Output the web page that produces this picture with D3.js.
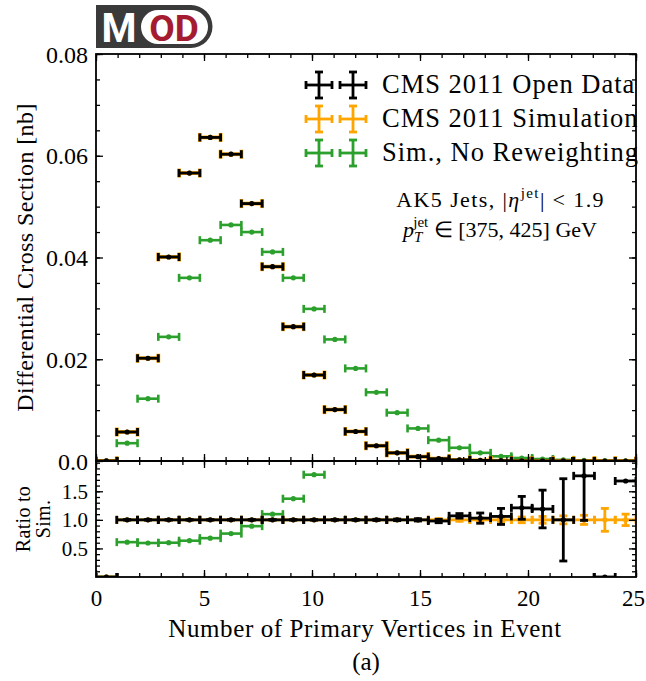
<!DOCTYPE html>
<html>
<head>
<meta charset="utf-8">
<script src="https://cdn.jsdelivr.net/npm/d3@7"></script>
<style>
  body { margin: 0; background: #fff; }
  svg { display: block; }
  .serif { font-family: "Liberation Serif", "Times New Roman", serif; fill: #000; }
  .badge { font-family: Roboto, "DejaVu Sans", sans-serif; font-weight: 700; }
</style>
</head>
<body>
<svg id="chart" width="646" height="681"></svg>
<script>
// ---- data: 26 equal bins spanning 0..25 primary vertices ----
const binEdges = d3.range(27).map(i => i * 25 / 26);

// differential cross section [nb]
const dataXsec = [0.00002, 0.0057, 0.0202, 0.0401, 0.0566, 0.0636, 0.0603, 0.0506, 0.0382, 0.0264,
  0.0169, 0.0101, 0.0058, 0.0030, 0.0016, 0.00085, 0.00045, 0.00022, 0.00012, 0.00006,
  0.00003, 0.000015, 0.000008, 0.000004, 0, 0.000002];
const simXsec = [0.00002, 0.0057, 0.0202, 0.0401, 0.0566, 0.0636, 0.0603, 0.0506, 0.0382, 0.0264,
  0.0169, 0.0101, 0.0058, 0.0030, 0.0016, 0.00086, 0.00046, 0.00021, 0.000117, 0.000057,
  0.000025, 0.000013, 0.000008, 0.0000023, 0.000003, 0.0000012];
const noRwXsec = [0.00003, 0.0035, 0.01225, 0.0244, 0.0360, 0.0434, 0.0464, 0.0450, 0.0411, 0.0360,
  0.0299, 0.0239, 0.0182, 0.0135, 0.0095, 0.0064, 0.0041, 0.0026, 0.0016, 0.00092,
  0.00059, 0.00039, 0.00022, 0.00012, 0.00006, 0.00003];

// ratios to the reweighted simulation, with their uncertainties
const ratioData = [0, 1.0, 1.0, 1.0, 1.0, 1.0, 1.0, 1.0, 1.0, 1.0,
  1.0, 1.0, 1.0, 1.0, 1.0, 1.0, 0.98, 1.07, 1.03, 1.06,
  1.21, 1.19, 1.0, 1.77, 0, 1.68];
const ratioDataErr = [0, 0.004, 0.003, 0.002, 0.002, 0.002, 0.002, 0.002, 0.003, 0.003,
  0.004, 0.005, 0.007, 0.01, 0.014, 0.02, 0.03, 0.04, 0.09, 0.14,
  0.2, 0.33, 0.72, 0.78, 0, 0];
const ratioSim = [0, 1, 1, 1, 1, 1, 1, 1, 1, 1, 1, 1, 1, 1, 1, 1, 1, 1, 1, 1, 1, 1, 1, 1, 1, 1];
const ratioSimErr = [0, 0.003, 0.002, 0.002, 0.002, 0.002, 0.002, 0.002, 0.002, 0.003,
  0.003, 0.004, 0.005, 0.007, 0.01, 0.014, 0.02, 0.025, 0.03, 0.04,
  0.05, 0.06, 0.07, 0.08, 0.2, 0.1];
const ratioNoRw = [0, 0.61, 0.595, 0.60, 0.635, 0.68, 0.76, 0.89, 1.10, 1.37,
  1.79, 2.37, 3.1, 4.5, 5.9, 7.5, 9.0, 12.0, 13.5, 15.0,
  19.0, 25.0, 27.0, 50.0, 60.0, 30.0];

// axis ticks and labels
const xMajorTicks = [0, 5, 10, 15, 20, 25];
const xMinorTicks = d3.range(0, 26, 1);
const yMainMajorTicks = [0, 0.02, 0.04, 0.06, 0.08];
const yMainTickLabels = ["0.0", "0.02", "0.04", "0.06", "0.08"];
const yMainMinorTicks = d3.range(0, 0.0801, 0.005);
const yRatioMajorTicks = [0.5, 1.0, 1.5];
const yRatioTickLabels = ["0.5", "1.0", "1.5"];
const yRatioMinorTicks = d3.range(0.1, 2.01, 0.1);

const legendLabels = ["CMS 2011 Open Data", "CMS 2011 Simulation", "Sim., No Reweighting"];
const colors = { data: "#000000", sim: "#ffa500", noRw: "#2ca02c" };

// ---- layout ----
const L = 96, R = 636, T = 54, M = 461, B = 577;
const svg = d3.select("#chart");

const x = d3.scaleLinear().domain([0, 25]).range([L, R]);
const yMain = d3.scaleLinear().domain([0, 0.08]).range([M, T]);
const yRatio = d3.scaleLinear().domain([0, 2.03]).range([B, M]);

const defs = svg.append("defs");
defs.append("clipPath").attr("id", "clipMain").append("rect")
  .attr("x", L).attr("y", T).attr("width", R - L).attr("height", M - T);
defs.append("clipPath").attr("id", "clipRatio").append("rect")
  .attr("x", L).attr("y", M).attr("width", R - L).attr("height", B - M);

// ---- error-bar series: x extent = bin, caps on every end, dot at centre ----
function errorSeries(layer, yScale, values, errors, st) {
  const rows = values.map((v, i) => ({
    lo: binEdges[i], hi: binEdges[i + 1], mid: (binEdges[i] + binEdges[i + 1]) / 2,
    v, e: errors ? errors[i] : 0
  })).filter(r => r.v != null);
  const g = layer.append("g").attr("stroke", st.color).attr("fill", st.color)
    .attr("stroke-width", st.lw);
  const b = g.selectAll("g").data(rows).join("g");
  b.append("line")
    .attr("x1", r => x(r.lo)).attr("x2", r => x(r.hi))
    .attr("y1", r => yScale(r.v)).attr("y2", r => yScale(r.v));
  [r => r.lo, r => r.hi].forEach(f => {
    b.append("line")
      .attr("x1", r => x(f(r))).attr("x2", r => x(f(r)))
      .attr("y1", r => yScale(r.v) - st.cap).attr("y2", r => yScale(r.v) + st.cap);
  });
  const be = b.filter(r => r.e > 0);
  be.append("line")
    .attr("x1", r => x(r.mid)).attr("x2", r => x(r.mid))
    .attr("y1", r => yScale(r.v - r.e)).attr("y2", r => yScale(r.v + r.e));
  [-1, 1].forEach(s => {
    be.append("line")
      .attr("x1", r => x(r.mid) - st.cap).attr("x2", r => x(r.mid) + st.cap)
      .attr("y1", r => yScale(r.v + s * r.e)).attr("y2", r => yScale(r.v + s * r.e));
  });
  b.append("circle").attr("cx", r => x(r.mid)).attr("cy", r => yScale(r.v))
    .attr("r", st.r).attr("stroke", "none");
}

const mainLayer = svg.append("g").attr("clip-path", "url(#clipMain)");
errorSeries(mainLayer, yMain, noRwXsec, null, { color: colors.noRw, lw: 2.6, cap: 4, r: 2.6 });
errorSeries(mainLayer, yMain, simXsec, null, { color: colors.sim, lw: 3.8, cap: 4.5, r: 2.6 });
errorSeries(mainLayer, yMain, dataXsec, null, { color: colors.data, lw: 2.8, cap: 4, r: 2.6 });

const ratioLayer = svg.append("g").attr("clip-path", "url(#clipRatio)");
errorSeries(ratioLayer, yRatio, ratioNoRw, null, { color: colors.noRw, lw: 2.6, cap: 4, r: 2.6 });
errorSeries(ratioLayer, yRatio, ratioSim, ratioSimErr, { color: colors.sim, lw: 2.8, cap: 4, r: 2.6 });
errorSeries(ratioLayer, yRatio, ratioData, ratioDataErr, { color: colors.data, lw: 2.8, cap: 4, r: 2.6 });

// ---- axes: inward ticks on all four sides of both panels ----
function tickAxis(axisFn, scale, values, size, pos, labels) {
  const ax = axisFn(scale).tickValues(values).tickSizeInner(-size).tickSizeOuter(0)
    .tickPadding(8).tickFormat(labels ? (d, i) => labels[i] : "");
  const g = svg.append("g").attr("transform", pos).call(ax);
  g.select(".domain").remove();
  g.selectAll(".tick line").attr("stroke", "#000").attr("stroke-width", 1.3);
  g.selectAll(".tick text").attr("class", "serif").attr("fill", "#000");
  return g;
}
const MAJ = 7, MIN = 4;
// main panel
tickAxis(d3.axisTop, x, xMinorTicks, MIN, `translate(0,${T})`);
tickAxis(d3.axisTop, x, xMajorTicks, MAJ, `translate(0,${T})`);
tickAxis(d3.axisBottom, x, xMinorTicks, MIN, `translate(0,${M})`);
tickAxis(d3.axisBottom, x, xMajorTicks, MAJ, `translate(0,${M})`);
tickAxis(d3.axisLeft, yMain, yMainMinorTicks, MIN, `translate(${L},0)`);
tickAxis(d3.axisLeft, yMain, yMainMajorTicks, MAJ, `translate(${L},0)`, yMainTickLabels)
  .selectAll(".tick text").attr("font-size", 24).attr("dy", "0.34em");
tickAxis(d3.axisRight, yMain, yMainMinorTicks, MIN, `translate(${R},0)`);
tickAxis(d3.axisRight, yMain, yMainMajorTicks, MAJ, `translate(${R},0)`);
// ratio panel
tickAxis(d3.axisTop, x, xMinorTicks, -MIN, `translate(0,${M})`).selectAll(".tick line")
  .attr("y2", MIN);
tickAxis(d3.axisTop, x, xMajorTicks, -MAJ, `translate(0,${M})`).selectAll(".tick line")
  .attr("y2", MAJ);
tickAxis(d3.axisBottom, x, xMinorTicks, MIN, `translate(0,${B})`);
tickAxis(d3.axisBottom, x, xMajorTicks, MAJ, `translate(0,${B})`,
  xMajorTicks.map(String)).selectAll(".tick text").attr("font-size", 23).attr("dy", "0.9em")
  .attr("dx", d => d === 25 ? -3 : 0);
tickAxis(d3.axisLeft, yRatio, yRatioMinorTicks, MIN, `translate(${L},0)`);
tickAxis(d3.axisLeft, yRatio, yRatioMajorTicks, MAJ, `translate(${L},0)`, yRatioTickLabels)
  .selectAll(".tick text").attr("font-size", 21).attr("dy", "0.34em");
tickAxis(d3.axisRight, yRatio, yRatioMinorTicks, MIN, `translate(${R},0)`);
tickAxis(d3.axisRight, yRatio, yRatioMajorTicks, MAJ, `translate(${R},0)`);

// frames
[[T, M], [M, B]].forEach(([a, b]) => {
  svg.append("rect").attr("x", L).attr("y", a).attr("width", R - L).attr("height", b - a)
    .attr("fill", "none").attr("stroke", "#000").attr("stroke-width", 1.8);
});

// ---- axis titles ----
svg.append("text").attr("class", "serif")
  .attr("transform", `translate(33,${(T + M) / 2}) rotate(-90)`)
  .attr("text-anchor", "middle").attr("font-size", 24).attr("letter-spacing", 0.4)
  .text("Differential Cross Section [nb]");
const rl = svg.append("text").attr("class", "serif")
  .attr("transform", `translate(33,${(M + B) / 2}) rotate(-90)`)
  .attr("text-anchor", "middle").attr("font-size", 20).attr("letter-spacing", 0.3);
rl.append("tspan").attr("x", 0).attr("y", -3).text("Ratio to");
rl.append("tspan").attr("x", 0).attr("y", 17).text("Sim.");
svg.append("text").attr("class", "serif").attr("x", (L + R) / 2 - 1).attr("y", 637)
  .attr("text-anchor", "middle").attr("font-size", 25).attr("letter-spacing", 0.6)
  .text("Number of Primary Vertices in Event");
svg.append("text").attr("class", "serif").attr("x", (L + R) / 2).attr("y", 670)
  .attr("text-anchor", "middle").attr("font-size", 25).text("(a)");

// ---- legend ----
const legendColors = [colors.data, colors.sim, colors.noRw];
const lg = svg.append("g");
legendLabels.forEach((lab, i) => {
  const cy = 85 + i * 34;
  [319, 353].forEach(cx => {
    const g = lg.append("g").attr("stroke", legendColors[i]).attr("stroke-width", 2.8);
    const h = 13, c = 4;
    g.append("line").attr("x1", cx - h).attr("x2", cx + h).attr("y1", cy).attr("y2", cy);
    g.append("line").attr("x1", cx).attr("x2", cx).attr("y1", cy - h).attr("y2", cy + h);
    g.append("line").attr("x1", cx - h).attr("x2", cx - h).attr("y1", cy - c).attr("y2", cy + c);
    g.append("line").attr("x1", cx + h).attr("x2", cx + h).attr("y1", cy - c).attr("y2", cy + c);
    g.append("line").attr("x1", cx - c).attr("x2", cx + c).attr("y1", cy - h).attr("y2", cy - h);
    g.append("line").attr("x1", cx - c).attr("x2", cx + c).attr("y1", cy + h).attr("y2", cy + h);
  });
  lg.append("text").attr("class", "serif").attr("x", 382).attr("y", cy + 8)
    .attr("font-size", 26.5).attr("letter-spacing", 1.0).text(lab);
});

// ---- selection annotation ----
const a1 = svg.append("text").attr("class", "serif").attr("x", 605).attr("y", 207)
  .attr("text-anchor", "end").attr("font-size", 22).attr("letter-spacing", 1.4);
a1.append("tspan").text("AK5 Jets, |");
a1.append("tspan").attr("font-style", "italic").text("η");
a1.append("tspan").attr("font-size", 15).attr("dy", -9).text("jet");
a1.append("tspan").attr("dy", 9).text("| < 1.9");
const a2 = svg.append("text").attr("class", "serif").attr("x", 597).attr("y", 237)
  .attr("text-anchor", "end").attr("font-size", 22).attr("letter-spacing", 0);
a2.append("tspan").attr("font-style", "italic").text("p");
a2.append("tspan").attr("font-size", 15).attr("font-style", "italic").attr("dy", 5).text("T");
a2.append("tspan").attr("font-size", 15).attr("dx", -9).attr("dy", -15).text("jet");
a2.append("tspan").attr("dy", 10).text(" ∈ [375, 425] GeV");

// ---- MOD badge ----
const logo = svg.append("g");
logo.append("path")
  .attr("d", "M96,5 H191 A21.5,21.5 0 0 1 191,48 H96 Z").attr("fill", "#3a3a3a");
logo.append("rect").attr("x", 141).attr("y", 10).attr("width", 67).attr("height", 34)
  .attr("rx", 17).attr("fill", "#fff");
logo.append("text").attr("class", "badge").attr("x", 119).attr("y", 41.5)
  .attr("text-anchor", "middle").attr("font-size", 40).attr("fill", "#fff").text("M");
logo.append("text").attr("class", "badge").attr("x", 174).attr("y", 41)
  .attr("text-anchor", "middle").attr("font-size", 37).attr("fill", "#a51c30").text("OD");
</script>
</body>
</html>
